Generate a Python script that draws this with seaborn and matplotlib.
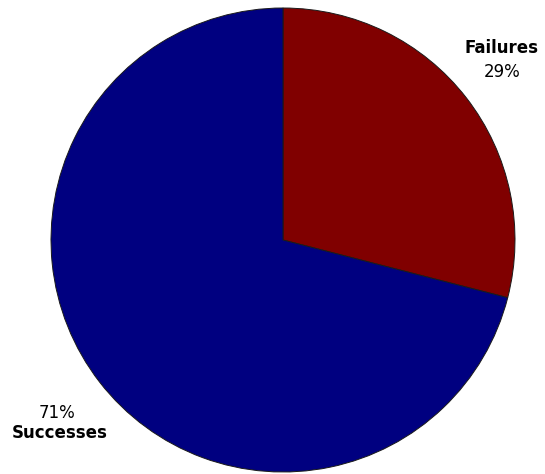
import matplotlib
matplotlib.use("Agg")
import matplotlib.pyplot as plt
import seaborn as sns

# Outcome shares
categories = ["Failures", "Successes"]
shares = [29, 71]
slice_colors = ["#800000", "#000080"]

sns.set_style("white")
plt.rcParams["font.family"] = ["DejaVu Sans"]

W, H = 545, 474
fig = plt.figure(figsize=(W / 100, H / 100), dpi=100)
ax = fig.add_axes([0, 0, 1, 1])

palette = sns.color_palette(slice_colors)
wedges, _ = ax.pie(
    shares,
    colors=palette,
    startangle=90,
    counterclock=False,
    center=(283, H - 240),
    radius=232,
    frame=True,
    wedgeprops=dict(edgecolor="#1a1a1a", linewidth=0.7),
)
ax.set_xlim(0, W)
ax.set_ylim(0, H)
ax.set_aspect("equal")
ax.set_axis_off()

# Slice labels: name in bold with percentage
ax.text(501, H - 48, categories[0], ha="center", va="center",
        fontsize=12, fontweight="bold", color="black")
ax.text(502, H - 72, f"{shares[0]}%", ha="center", va="center",
        fontsize=12, color="black")
ax.text(57, H - 413, f"{shares[1]}%", ha="center", va="center",
        fontsize=12, color="black")
ax.text(60, H - 433, categories[1], ha="center", va="center",
        fontsize=12, fontweight="bold", color="black")

fig.savefig("out.png", dpi=100)
